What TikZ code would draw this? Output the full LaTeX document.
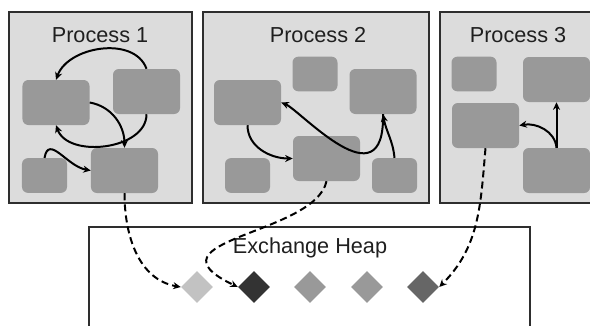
\documentclass[tikz,border=0pt]{standalone}
\usepackage{fontspec}
\setmainfont{Liberation Sans}
\usetikzlibrary{arrows.meta,shapes.geometric}

\definecolor{procbg}{HTML}{DCDCDC}
\definecolor{boxgray}{HTML}{999999}
\definecolor{framegray}{HTML}{2E2E2E}
\definecolor{gemA}{HTML}{C2C2C2}
\definecolor{gemB}{HTML}{333333}
\definecolor{gemC}{HTML}{999999}
\definecolor{gemD}{HTML}{666666}

\tikzset{
	frame/.style={draw=framegray, line width=1.2pt},
	bigbox/.style={rounded corners=5pt, fill=boxgray, inner sep=0pt, minimum width=2.01cm, minimum height=1.35cm},
	smallbox/.style={rounded corners=5pt, fill=boxgray, inner sep=0pt, minimum width=1.35cm, minimum height=1.04cm},
	title/.style={font=\fontsize{18.5}{22}\selectfont, text=black!88},
	flow/.style={line width=1.7pt, -{Stealth[length=6.5pt,width=6pt]}},
	xfer/.style={flow, dash pattern=on 6pt off 3.5pt},
	gem/.style={diamond, inner sep=0pt, minimum width=0.96cm, minimum height=0.96cm}
}

\begin{document}
\begin{tikzpicture}[x=0.03cm, y=0.03cm]
			\useasboundingbox (0,0) rectangle (590,-325);
			\clip (0,0) rectangle (590,-325);
			
			% process frames and heap
			\draw[frame, fill=procbg] (9,-12) rectangle (192,-203);
			\draw[frame, fill=procbg] (203,-12) rectangle (429,-203);
			\draw[frame, fill=procbg] (440,-12) rectangle (600,-203);
			\draw[frame] (89,-227) rectangle (530,-340);
			
			\node[title] (t1) at (100,-35) {Process 1};
			\node[title] (t2) at (318,-35) {Process 2};
			\node[title] (t3) at (518,-35) {Process 3};
			\node[title] (heap) at (310,-248) {Exchange Heap};
			
			% process 1
			\node[bigbox] (p1a) at (56,-102.5) {};
			\node[bigbox] (p1b) at (146.5,-91.5) {};
			\node[smallbox] (p1c) at (44.5,-175.5) {};
			\node[bigbox] (p1d) at (124.5,-170.5) {};
			
			% process 2
			\node[smallbox] (p2a) at (315,-74) {};
			\node[bigbox] (p2b) at (247.5,-102.5) {};
			\node[bigbox] (p2c) at (383,-91.5) {};
			\node[bigbox] (p2d) at (326.5,-158.5) {};
			\node[smallbox] (p2e) at (247.5,-175.5) {};
			\node[smallbox] (p2f) at (394.5,-175.5) {};
			
			% process 3
			\node[smallbox] (p3a) at (474,-74) {};
			\node[bigbox] (p3b) at (556.5,-79.5) {};
			\node[bigbox] (p3c) at (485.5,-125.5) {};
			\node[bigbox] (p3d) at (556.5,-170.5) {};
			
			% heap objects
			\node[gem, fill=gemA] (d1) at (197,-287) {};
			\node[gem, fill=gemB] (d2) at (254,-287) {};
			\node[gem, fill=gemC] (d3) at (310,-287) {};
			\node[gem, fill=gemC] (d4) at (367,-287) {};
			\node[gem, fill=gemD] (d5) at (423,-287) {};
			
			\draw[flow] (p1b.north) to[out=110,in=70] (p1a.north);
			\draw[flow] (p1b.south) to[out=-90,in=-70] (p1a.south);
			\draw[flow] (p1a.east) to[out=-10,in=90] (p1d.north);
			\draw[flow] (p1c.north) to[out=80,in=170,looseness=1.3] (p1d.west);
			
			\draw[flow] (p2b.south) to[out=-90,in=180] (p2d.west);
			\draw[flow] (p2c.south) .. controls (385,-205) and (300,-110) .. (p2b.east);
			\draw[flow] (p2f.north) to[out=95,in=-80] (p2c.south);
			
			\draw[flow] (p3d.north) -- (p3b.south);
			\draw[flow] (p3d.north) to[out=95,in=10] (p3c.east);
			
			\draw[xfer] (p1d.south) to[out=-90,in=170] (d1.west);
			\draw[xfer] (p2d.south) .. controls (315,-235) and (140,-240) .. (d2.west);
			\draw[xfer] (p3c.south) to[out=-95,in=45] (d5.east);
			
\end{tikzpicture}
\end{document}
